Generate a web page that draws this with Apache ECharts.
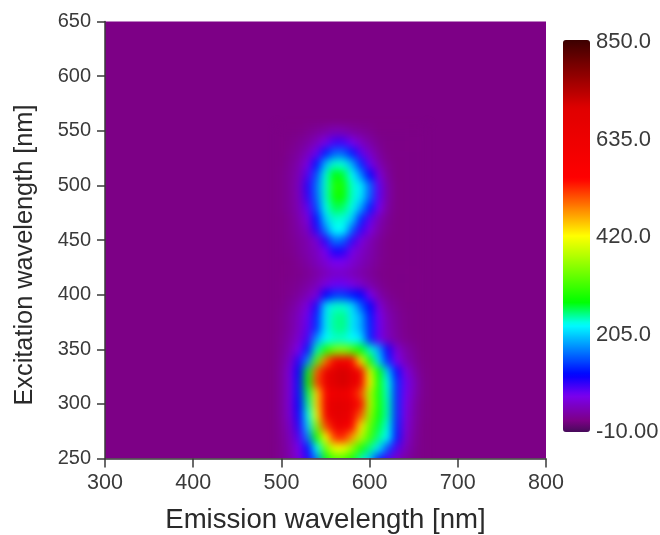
<!DOCTYPE html>
<html><head><meta charset="utf-8">
<style>html,body{margin:0;padding:0;background:#fff}#c{width:660px;height:535px}</style>
<script src="https://cdn.jsdelivr.net/npm/echarts@6/dist/echarts.min.js"></script>
</head><body><div id="c"></div>
<script>
const xTicks=[300,400,500,600,700,800];
const yTicks=[250,300,350,400,450,500,550,600,650];
const barTicks=[-10,205,420,635,850];
const barLabels=['-10.00','205.0','420.0','635.0','850.0'];
const emission=[500,510,520,530,540,550,560,570,580,590,600,610,620,630,640,650,660];
const excitation=[250,260,270,280,290,300,310,320,330,340,350,360,370,380,390,400,410,420,430,440,450,460,470,480,490,500,510,520,530,540,550];
const intensity=[
[22,35,60,100,170,270,320,320,285,240,200,130,85,50,30,20,15],
[22,38,70,120,225,335,410,410,360,290,250,215,150,85,45,25,16],
[24,42,85,170,285,420,520,530,470,380,310,250,225,125,55,28,16],
[26,48,100,205,350,510,625,630,560,430,330,265,230,130,60,32,16],
[28,55,110,230,410,590,670,670,620,500,360,280,240,135,65,34,18],
[28,58,115,245,440,620,680,680,650,540,380,285,240,135,68,36,18],
[28,58,120,260,440,570,630,630,590,510,375,285,235,135,72,42,20],
[28,58,120,280,510,650,700,710,670,620,425,285,230,135,75,45,20],
[28,58,115,270,500,640,700,710,670,590,400,275,205,120,65,36,18],
[26,50,100,175,320,490,590,600,550,430,285,210,130,70,42,26,16],
[24,40,70,125,240,290,340,350,320,275,235,190,110,58,34,22,15],
[22,34,55,90,180,225,235,235,225,215,130,75,45,30,20,16,15],
[20,30,48,80,135,215,245,250,215,190,130,75,42,28,18,15,15],
[20,30,46,75,130,215,245,250,215,190,125,72,40,26,18,15,15],
[18,26,40,62,105,210,235,235,210,155,115,60,32,22,16,15,15],
[16,20,28,42,60,115,140,140,125,115,70,36,22,16,15,15,15],
[16,18,22,30,42,60,75,75,62,50,35,24,16,15,15,15,15],
[15,16,18,24,32,42,50,50,42,34,26,18,15,15,15,15,15],
[15,16,22,30,42,55,70,68,55,42,32,22,16,15,15,15,15],
[16,18,26,36,45,70,105,100,65,48,36,24,16,15,15,15,15],
[16,20,28,36,55,100,165,155,95,60,40,26,16,15,15,15,15],
[16,22,32,48,100,170,225,225,155,95,62,34,20,15,15,15,15],
[16,22,36,60,120,205,235,232,205,130,80,42,24,15,15,15,15],
[18,26,40,80,145,228,260,255,228,185,125,70,30,16,15,15,15],
[18,26,42,95,160,235,285,280,235,215,155,80,34,16,15,15,15],
[18,26,44,100,165,235,295,285,235,218,160,80,34,16,15,15,15],
[18,26,40,85,150,232,275,265,225,175,115,60,28,15,15,15,15],
[16,24,36,65,120,195,235,232,190,130,75,40,22,15,15,15,15],
[15,20,28,45,75,125,160,160,125,80,50,28,16,15,15,15,15],
[15,16,22,30,45,65,90,90,68,48,32,20,15,15,15,15,15],
[15,15,16,20,26,32,40,38,30,25,20,15,15,15,15,15,15]
];
const colorStops=[[-10,[70,10,90]],[15,[125,0,134]],[70,[122,0,240]],[115,[0,0,255]],[225,[0,255,255]],[275,[0,255,0]],[420,[255,255,0]],[545,[255,0,0]],[700,[224,0,0]],[850,[60,0,0]]];
const ramp=[];
for(let v=-10;v<=850;v+=5){
  let i=0;while(i<colorStops.length-2&&v>colorStops[i+1][0])i++;
  const a=colorStops[i],b=colorStops[i+1],t=(v-a[0])/(b[0]-a[0]);
  ramp.push('rgb('+a[1].map((c,k)=>Math.round(c+(b[1][k]-c)*t)).join(',')+')');
}
const cells=[];
excitation.forEach((ex,r)=>emission.forEach((em,c)=>cells.push([em,ex,intensity[r][c]])));
const textCol='#3a3a3a';
const chart=echarts.init(document.getElementById('c'),null,{renderer:'canvas'});
chart.setOption({
  animation:false,
  backgroundColor:'#fff',
  textStyle:{fontFamily:'"Liberation Sans",Arial,sans-serif'},
  grid:[
    {left:105,top:21.5,width:441,height:437,show:true,backgroundColor:'#7d0086',borderWidth:0,outerBoundsMode:'none'},
    {left:563,top:42,width:27,height:390,show:false,outerBoundsMode:'none'}
  ],
  xAxis:[
    {type:'value',gridIndex:0,min:300,max:800,interval:100,name:'Emission wavelength [nm]',nameLocation:'middle',nameGap:48,
     nameTextStyle:{fontSize:27.6,color:'#2a2a2a'},splitLine:{show:false},
     axisLine:{show:true,lineStyle:{color:'#3a3a3a',width:1.5}},axisTick:{show:true,length:9,lineStyle:{color:'#3a3a3a',width:1.5}},
     axisLabel:{fontSize:21.5,color:textCol,margin:14,hideOverlap:false,customValues:xTicks}},
    {type:'value',gridIndex:1,min:0,max:1,show:false}
  ],
  yAxis:[
    {type:'value',gridIndex:0,min:250,max:650,interval:50,name:'Excitation wavelength [nm]',nameLocation:'middle',nameGap:67,
     nameTextStyle:{fontSize:25.3,color:'#2a2a2a',padding:[0,30,0,0]},splitLine:{show:false},
     axisLine:{show:true,lineStyle:{color:'#3a3a3a',width:1.5}},axisTick:{show:true,length:8,lineStyle:{color:'#3a3a3a',width:1.5}},
     axisLabel:{fontSize:20,color:textCol,margin:14,customValues:yTicks}},
    {type:'value',gridIndex:1,min:-10,max:850,position:'right',splitLine:{show:false},axisLine:{show:false},axisTick:{show:false},
     axisLabel:{fontSize:22,color:textCol,margin:6,customValues:barTicks,formatter:v=>barLabels[barTicks.indexOf(v)]}}
  ],
  visualMap:{type:'continuous',seriesIndex:0,dimension:2,min:-10,max:850,left:563,top:40,itemWidth:27,itemHeight:392,
    text:null,calculable:false,inRange:{color:ramp},textStyle:{color:'transparent',fontSize:1},showLabel:false,padding:0,realtime:false,hoverLink:false},
  series:[{
    type:'custom',zlevel:1,coordinateSystem:'cartesian2d',xAxisIndex:0,yAxisIndex:0,clip:false,silent:true,
    encode:{x:0,y:1},data:cells,
    renderItem(params,api){
      const em=api.value(0),ex=api.value(1);
      const p0=api.coord([em-5,ex===excitation[0]?ex-20:ex-5]);
      const p1=api.coord([em+5,ex+5]);
      return {type:'rect',shape:{x:p0[0],y:p1[1],width:p1[0]-p0[0]+0.6,height:p0[1]-p1[1]+0.6},style:{fill:api.visual('color')}};
    }
  }]
});
function soften(){
  const heat=document.querySelector('canvas[data-zr-dom-id="zr_1"]');
  if(heat){heat.style.filter='blur(4.5px)';heat.style.clipPath='inset(22px 114px 77px 106px)';}
  const base=document.querySelector('canvas[data-zr-dom-id="zr_0"]');
  if(base){base.style.filter='blur(0.7px)';}
}
soften();
chart.on('finished',soften);
</script></body></html>
